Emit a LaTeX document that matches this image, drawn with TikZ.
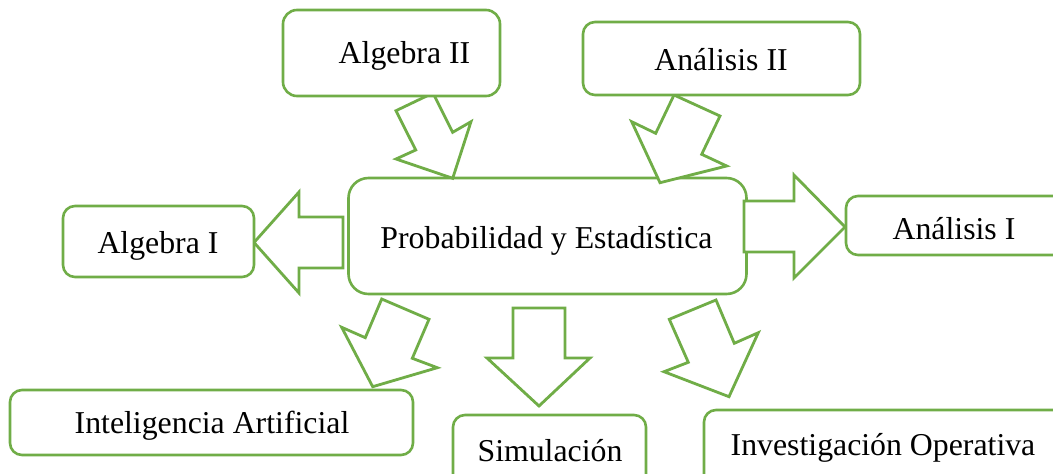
\documentclass[tikz,border=0pt]{standalone}
\usepackage{fontspec}
\setmainfont{Liberation Serif}
\definecolor{grn}{HTML}{70AD47}
\begin{document}
\begin{tikzpicture}[x=1pt,y=-1pt,
  box/.style={draw=grn, line width=2.6pt, fill=white, rectangle, inner sep=0pt, rounded corners=14pt},
  bigbox/.style={box, rounded corners=20pt},
  blockarrow/.style={draw=grn, line width=2.8pt, fill=white, line join=miter},
  lbl/.style={anchor=base, inner sep=0pt, text=black, font=\fontsize{31.8}{38}\selectfont}]
\clip (0,0) rectangle (1053,474);
\fill[white] (0,0) rectangle (1053,474);
% central box
\node[bigbox, minimum width=398pt, minimum height=116pt] (prob) at (547.5,236) {};
% block arrows
\draw[blockarrow] (343,217) -- (299,217) -- (299,192) -- (254,242.5) -- (299,293) -- (299,268) -- (343,268) -- cycle;
\draw[blockarrow] (744,201) -- (794,201) -- (794,175) -- (845,227) -- (794,278) -- (794,252) -- (744,252) -- cycle;
\draw[blockarrow] (513,308) -- (565,308) -- (565,358) -- (590,358) -- (539,406) -- (487,358) -- (513,358) -- cycle;
\draw[blockarrow] (396,110.7) -- (433,93) -- (452.7,132.3) -- (471,121.7) -- (452.7,178.3) -- (396,159) -- (415.7,150) -- cycle;
\draw[blockarrow] (674,95) -- (720,116) -- (701.7,154.3) -- (726.7,166) -- (660,182.7) -- (631.7,121.7) -- (655.7,133.3) -- cycle;
\draw[blockarrow] (381.7,299) -- (429,319.3) -- (412.3,358.3) -- (437.3,367.7) -- (372.7,386.7) -- (341.7,327.3) -- (365.3,337.7) -- cycle;
\draw[blockarrow] (669.3,319.3) -- (716,300) -- (734.3,343.3) -- (758.3,332.7) -- (729,396.7) -- (664,371.7) -- (688.3,362.3) -- cycle;
% outer boxes
\node[box, minimum width=217pt, minimum height=86pt] (alg2) at (391.5,53) {};
\node[box, minimum width=277pt, minimum height=73pt, rounded corners=12pt] (ana2) at (721.5,58.5) {};
\node[box, minimum width=191pt, minimum height=71pt, rounded corners=12pt] (alg1) at (158.5,241.5) {};
\node[box, minimum width=230pt, minimum height=59pt, rounded corners=12pt] (ana1) at (961,225.5) {};
\node[box, minimum width=403pt, minimum height=65pt, rounded corners=12pt] (ia) at (211.5,422.5) {};
\node[box, minimum width=193pt, minimum height=80pt, rounded corners=12pt] (sim) at (549.5,455) {};
\node[box, minimum width=370pt, minimum height=80pt, rounded corners=12pt] (io) at (889,450) {};
% labels
\node[lbl] (talg2) at (404.5,63) {Algebra II};
\node[lbl] (tana2) at (721,70) {Análisis II};
\node[lbl] (talg1) at (158,253.3) {Algebra I};
\node[lbl] (tprob) at (546.5,248.3) {Probabilidad y Estadística};
\node[lbl] (tana1) at (954,239) {Análisis I};
\node[lbl] (tia) at (212,433) {Inteligencia Artificial};
\node[lbl] (tsim) at (550,461) {Simulación};
\node[lbl] (tio) at (883,455) {Investigación Operativa};
\end{tikzpicture}
\end{document}
